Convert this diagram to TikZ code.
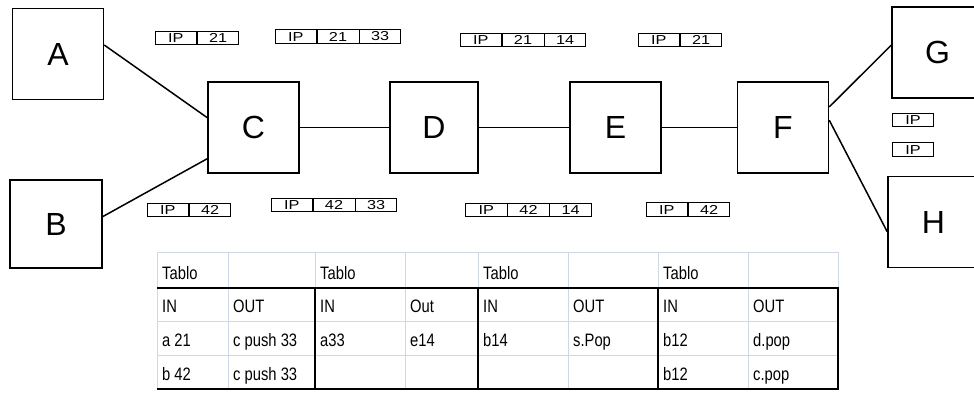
\documentclass[tikz,border=0pt]{standalone}
\usepackage{fontspec}
\setmainfont{Liberation Sans}
\newfontfamily\routerfont{Liberation Sans}
\newfontfamily\ipfont[FakeStretch=1.25]{Liberation Sans}
\newfontfamily\tabfont[FakeStretch=0.82]{Liberation Sans}
\usetikzlibrary{shapes.multipart}
\definecolor{gridgray}{RGB}{208,215,229}

\begin{document}
\begin{tikzpicture}[
				x=1pt, y=-1pt,
				router/.style={
						draw, line width=1.5pt, inner sep=0pt,
						minimum width=91pt, minimum height=91pt,
						font=\routerfont\fontsize{32}{32}\selectfont,
					},
				link/.style={line width=1.5pt},
				packet/.style={
						draw, line width=1.2pt, inner xsep=0pt, inner ysep=2pt,
						rectangle split, rectangle split horizontal,
						text width=41pt, text height=9.3pt, text depth=0pt, align=center,
						font=\ipfont\fontsize{13}{13}\selectfont,
					},
				cell/.style={anchor=base west, inner sep=0pt,
						font=\tabfont\fontsize{18}{18}\selectfont},
				gridline/.style={gridgray, line width=1pt},
				frame/.style={line width=2.4pt},
			]
			\useasboundingbox (0,0) rectangle (974,392);
			\clip (0,0) rectangle (974,392);

			% routers
			\node[router] (A) at (58,54) {A};
			\node[router, minimum width=92pt, minimum height=88pt] (B) at (56,224) {B};
			\node[router] (C) at (253.5,127.5) {C};
			\node[router, minimum width=88pt] (D) at (434,127.5) {D};
			\node[router] (E) at (615.5,127.5) {E};
			\node[router] (F) at (783,127.5) {F};
			\node[router] (G) at (937.5,52.5) {G};
			\node[router] (H) at (933.5,222) {H};

			\draw[link] (A.11) -- (C.168);
			\draw[link] (B.9) -- (C.214);
			\draw[link] (C) -- (D);
			\draw[link] (D) -- (E);
			\draw[link] (E) -- (F);
			\draw[link] (F.24) -- (G.171);
			\draw[link] (F.9) -- (H.192);

			% labels on the way out
			\node[packet, rectangle split parts=2] (p21a) at (197,38) {IP \nodepart{two} 21};
			\node[packet, rectangle split parts=3] (p21b) at (338,36.5) {IP \nodepart{two} 21 \nodepart{three} 33};
			\node[packet, rectangle split parts=3] (p21c) at (523,40) {IP \nodepart{two} 21 \nodepart{three} 14};
			\node[packet, rectangle split parts=2] (p21d) at (680,40) {IP \nodepart{two} 21};
			\node[packet, rectangle split parts=2] (p42a) at (189,210) {IP \nodepart{two} 42};
			\node[packet, rectangle split parts=3] (p42b) at (334,205) {IP \nodepart{two} 42 \nodepart{three} 33};
			\node[packet, rectangle split parts=3] (p42c) at (528.5,210) {IP \nodepart{two} 42 \nodepart{three} 14};
			\node[packet, rectangle split parts=2] (p42d) at (688,209.5) {IP \nodepart{two} 42};
			\node[packet, rectangle split parts=1] (ipG) at (913,120) {IP};
			\node[packet, rectangle split parts=1] (ipH) at (913,149.5) {IP};

			% label tables
			\foreach \x in {157,228,315,405,478,568,658,748,838}
				\draw[gridline] (\x,252) -- (\x,389);
			\foreach \y in {252,288,321,355,389}
				\draw[gridline] (157,\y) -- (838,\y);
			\draw[frame] (157,288) -- (838,288) -- (838,389) -- (157,389);
			\foreach \x in {315,478,658}
				\draw[frame] (\x,288) -- (\x,389);

			\foreach \c [count=\i] in {157,315,478,658}
				\node[cell] (head\i) at (\c+5,279) {Tablo};
			\foreach \c/\txt [count=\i] in {157/IN,228/OUT,315/IN,405/Out,478/IN,568/OUT,658/IN,748/OUT}
				\node[cell] (dir\i) at (\c+5,312) {\txt};
			\foreach \c/\txt [count=\i] in {157/a 21,228/c push 33,315/a33,405/e14,478/b14,568/s.Pop,658/b12,748/d.pop}
				\node[cell] (ra\i) at (\c+5,346) {\txt};
			\foreach \c/\txt [count=\i] in {157/b 42,228/c push 33,658/b12,748/c.pop}
				\node[cell] (rb\i) at (\c+5,380) {\txt};
		\end{tikzpicture}
\end{document}
